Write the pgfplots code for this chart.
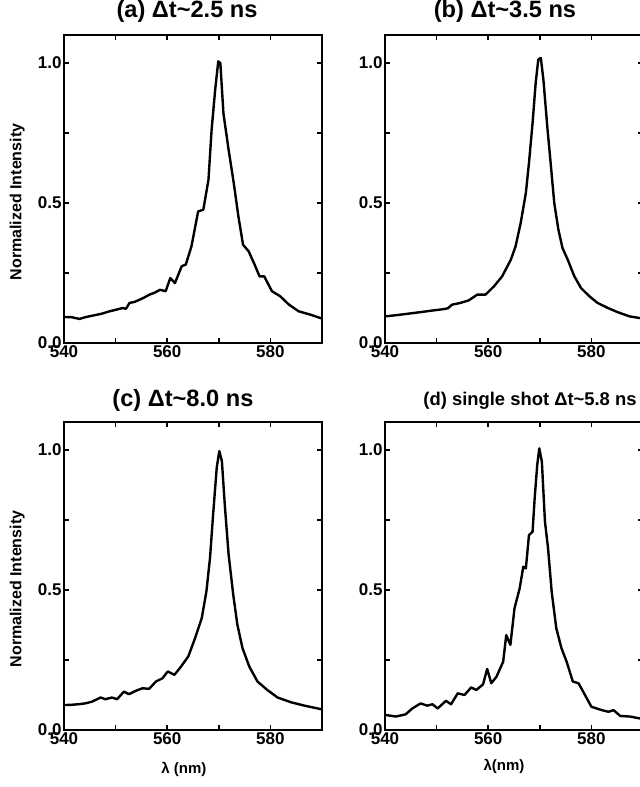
\documentclass[border=0pt]{standalone}
\usepackage{fontspec}
\setmainfont{Liberation Sans}
\usepackage{pgfplots}
\pgfplotsset{compat=1.18}

\pgfplotsset{
  spec/.style={
    scale only axis, width=129pt, height=154pt,
    xmin=540, xmax=590, ymin=0, ymax=1.1,
    xtick={540,560,580}, ytick={0,0.5,1},
    minor x tick num=1, minor y tick num=1,
    tick align=inside,
    major tick length=2.5pt, minor tick length=2.5pt,
    every tick/.style={black, line width=0.8pt},
    axis line style={line width=1pt},
    /pgf/number format/assume math mode=true,
    tick label style={font=\fontsize{8.5}{9}\selectfont\bfseries, inner sep=1pt},
    yticklabel style={/pgf/number format/.cd, fixed, fixed zerofill, precision=1},
    xticklabel style={/pgf/number format/.cd, fixed, precision=0, 1000 sep={}},
    every axis title shift=0pt,
    title style={font=\fontsize{11.8}{13}\selectfont\bfseries, anchor=south, inner sep=0pt},
    ylabel style={font=\fontsize{8}{9}\selectfont\bfseries, at={(axis description cs:-0.181,0.458)}, anchor=center},
    xlabel style={font=\fontsize{7.5}{8}\selectfont\bfseries, anchor=center},
  },
  curve/.style={black, line width=1.2pt, line join=round}
}

\begin{document}
\begin{tikzpicture}[x=1pt,y=1pt]
\useasboundingbox (0,0) rectangle (320,393.5);

% (a)
\begin{axis}[spec, at={(32pt,222pt)}, anchor=south west,
  title={(a) Δt\textasciitilde2.5 ns},
  title style={at={(axis description cs:0.477,1)}, yshift=6pt},
  ylabel={Normalized Intensity}]
\addplot[curve] coordinates {
(540.0,0.093) (541.5,0.092) (543.0,0.086) (544.3,0.093) (545.6,0.098) (547.2,0.104)
(548.8,0.113) (550.1,0.119) (551.4,0.125) (552.0,0.122) (552.7,0.143) (553.7,0.147)
(554.7,0.155) (555.6,0.163) (556.6,0.173) (557.6,0.180) (558.6,0.190) (559.7,0.185)
(560.6,0.232) (561.5,0.214) (562.8,0.274) (563.6,0.280) (564.7,0.345) (566.0,0.470)
(567.0,0.476) (568.0,0.583) (568.6,0.760) (569.3,0.905) (569.9,1.006) (570.3,1.000)
(570.9,0.820) (571.9,0.690) (572.9,0.571) (573.8,0.452) (574.7,0.351) (575.8,0.327)
(576.8,0.286) (577.9,0.238) (578.8,0.238) (580.3,0.185) (581.9,0.167) (583.6,0.137)
(585.5,0.113) (587.8,0.101) (589.7,0.089) (590.0,0.088)
};
\end{axis}

% (b)
\begin{axis}[spec, at={(192.5pt,222pt)}, anchor=south west,
  title={(b) Δt\textasciitilde3.5 ns},
  title style={at={(axis description cs:0.465,1)}, yshift=6pt}]
\addplot[curve] coordinates {
(540.0,0.095) (541.5,0.098) (542.9,0.101) (544.2,0.104) (545.5,0.107) (547.2,0.111)
(548.8,0.115) (550.1,0.118) (551.4,0.121) (552.2,0.124) (553.0,0.137) (554.6,0.143)
(556.2,0.152) (557.9,0.173) (559.5,0.173) (561.1,0.202) (562.7,0.238) (564.4,0.298)
(565.3,0.345) (566.3,0.429) (567.3,0.536) (567.9,0.643) (568.6,0.786) (569.2,0.929)
(569.7,1.012) (570.2,1.018) (570.7,0.940) (571.5,0.762) (572.1,0.643) (572.8,0.500)
(573.6,0.405) (574.4,0.339) (575.4,0.298) (576.7,0.238) (578.0,0.196) (579.6,0.167)
(581.2,0.143) (583.2,0.125) (585.1,0.110) (587.4,0.095) (589.4,0.089) (590.0,0.087)
};
\end{axis}

% (c)
\begin{axis}[spec, at={(32pt,28.5pt)}, anchor=south west,
  title={(c) Δt\textasciitilde8.0 ns},
  title style={at={(axis description cs:0.461,1)}, yshift=5pt},
  ylabel={Normalized Intensity},
  xlabel={λ (nm)},
  xlabel style={at={(axis description cs:0.465,-0.127)}}]
\addplot[curve] coordinates {
(540.0,0.089) (541.4,0.090) (542.8,0.092) (544.1,0.095) (545.4,0.101) (547.1,0.116)
(548.0,0.110) (549.3,0.116) (550.3,0.110) (551.6,0.137) (552.6,0.128) (553.9,0.140)
(555.2,0.149) (556.5,0.147) (557.8,0.173) (559.1,0.185) (560.1,0.209) (561.4,0.197)
(562.7,0.227) (564.1,0.263) (565.4,0.328) (566.7,0.400) (567.6,0.495) (568.3,0.615)
(568.9,0.770) (569.6,0.937) (570.1,0.996) (570.6,0.960) (571.2,0.794) (571.9,0.627)
(572.8,0.483) (573.6,0.376) (574.6,0.292) (575.9,0.227) (577.5,0.173) (579.4,0.143)
(581.4,0.116) (584.0,0.099) (586.6,0.087) (589.9,0.074) (590.0,0.074)
};
\end{axis}

% (d)
\begin{axis}[spec, at={(192.5pt,28.5pt)}, anchor=south west,
  title={(d) single shot Δt\textasciitilde5.8 ns},
  title style={at={(axis description cs:0.562,1)}, yshift=6pt, font=\fontsize{9.2}{10}\selectfont\bfseries},
  xlabel={λ(nm)},
  xlabel style={at={(axis description cs:0.461,-0.117)}}]
\addplot[curve] coordinates {
(540.0,0.054) (542.1,0.048) (544.0,0.056) (545.3,0.077) (546.9,0.095) (548.2,0.087)
(549.2,0.092) (550.2,0.077) (551.8,0.104) (552.8,0.092) (554.1,0.131) (555.4,0.125)
(556.7,0.152) (557.7,0.143) (559.0,0.163) (559.8,0.218) (560.6,0.167) (561.6,0.190)
(562.9,0.244) (563.5,0.339) (564.3,0.304) (565.1,0.435) (566.1,0.506) (566.8,0.583)
(567.3,0.577) (567.9,0.696) (568.6,0.708) (569.0,0.827) (569.5,0.946) (569.9,1.006)
(570.4,0.958) (571.0,0.744) (571.6,0.649) (572.3,0.494) (573.2,0.363) (574.2,0.292)
(575.2,0.244) (576.4,0.173) (577.5,0.167) (578.4,0.137) (580.0,0.083) (582.0,0.071)
(583.3,0.065) (584.3,0.071) (585.6,0.050) (587.5,0.048) (589.2,0.042) (590.0,0.040)
};
\end{axis}
\end{tikzpicture}
\end{document}
